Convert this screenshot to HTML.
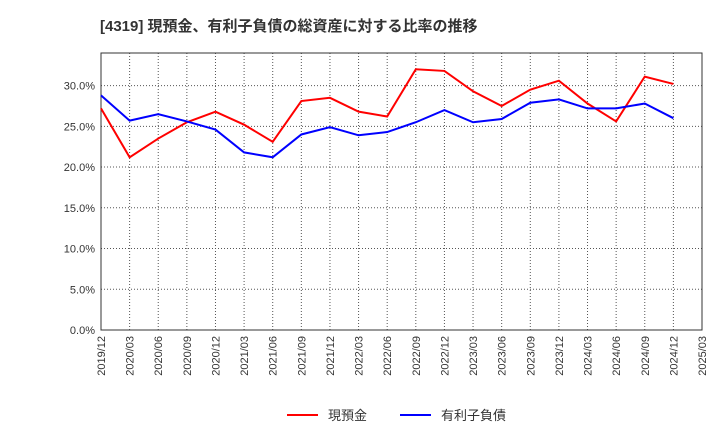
<!DOCTYPE html>
<html><head><meta charset="utf-8"><style>
body{margin:0;background:#fff;}
svg{display:block;font-family:"Liberation Sans","Noto Sans CJK JP",sans-serif;}
</style></head><body>
<svg id="chart" width="720" height="440">
<text x="100" y="31" font-size="15" font-weight="bold" fill="#333">[4319]  現預金、有利子負債の総資産に対する比率の推移</text>
<g id="grid"></g><g id="axes"></g><g id="series"></g>
<g>
<line x1="287" y1="415" x2="318" y2="415" stroke="#f00" stroke-width="2"/>
<text x="328" y="420" font-size="13" fill="#333">現預金</text>
<line x1="400" y1="415" x2="431" y2="415" stroke="#00f" stroke-width="2"/>
<text x="441" y="420" font-size="13" fill="#333">有利子負債</text>
</g>
</svg>
<script>
const categories=["2019/12","2020/03","2020/06","2020/09","2020/12","2021/03","2021/06","2021/09","2021/12","2022/03","2022/06","2022/09","2022/12","2023/03","2023/06","2023/09","2023/12","2024/03","2024/06","2024/09","2024/12","2025/03"];
const cashValues=[27.2,21.2,23.5,25.5,26.8,25.2,23.1,28.1,28.5,26.8,26.2,32.0,31.8,29.3,27.5,29.5,30.6,27.8,25.6,31.1,30.2];
const debtValues=[28.8,25.7,26.5,25.6,24.6,21.8,21.2,24.0,24.9,23.9,24.3,25.5,27.0,25.5,25.9,27.9,28.3,27.2,27.2,27.8,26.0];
const yTicks=[0,5,10,15,20,25,30];
const L=101,R=702,T=53,B=330,YMAX=34;
const NS="http://www.w3.org/2000/svg";
const xs=i=>L+i*(R-L)/(categories.length-1);
const ys=v=>B-v/YMAX*(B-T);
function mk(p,t,a){const e=document.createElementNS(NS,t);for(const k in a)e.setAttribute(k,a[k]);document.getElementById(p).appendChild(e);return e;}
categories.forEach((c,i)=>{
 const g=mk('grid','line',{x1:xs(i),x2:xs(i),y1:T,y2:B,stroke:'#555','stroke-dasharray':'1,2','stroke-width':1});
 
 
 const x=xs(i),y=B+6;
 const t=mk('axes','text',{x:x+4,y:y,'font-size':11,fill:'#333','text-anchor':'end',transform:`rotate(-90 ${x+4} ${y})`});
 t.textContent=c;
 
 
});
yTicks.forEach(v=>{
 const g=mk('grid','line',{x1:L,x2:R,y1:ys(v),y2:ys(v),stroke:'#555','stroke-dasharray':'1,2','stroke-width':1});
 
 
 const t=mk('axes','text',{x:L-6,y:ys(v)+4,'font-size':11,fill:'#333','text-anchor':'end'});
 t.textContent=v.toFixed(1)+'%';
 
 
});
const frame=mk('axes','rect',{x:L,y:T,width:R-L,height:B-T,fill:'none',stroke:'#333','stroke-width':1});


const l1=mk('series','polyline',{points:cashValues.map((v,i)=>xs(i)+','+ys(v)).join(' '),fill:'none',stroke:'#f00','stroke-width':2});


const l2=mk('series','polyline',{points:debtValues.map((v,i)=>xs(i)+','+ys(v)).join(' '),fill:'none',stroke:'#00f','stroke-width':2});


</script>
</body></html>
